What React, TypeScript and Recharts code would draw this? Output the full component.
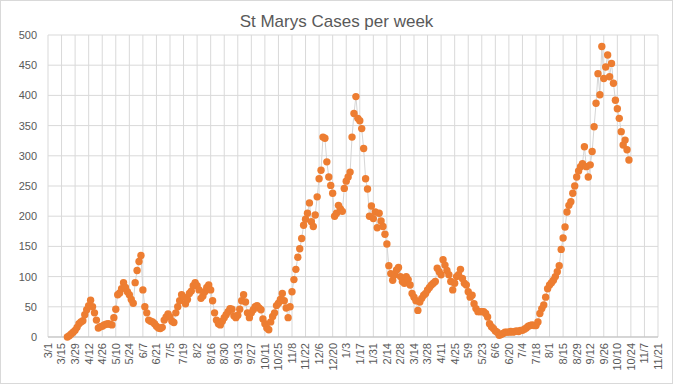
import React from 'react';
import { LineChart, Line, XAxis, YAxis, CartesianGrid } from 'recharts';

// x-axis labels, one every 14 days starting 3/1/2020
const tickLabels = [
  '3/1', '3/15', '3/29', '4/12', '4/26', '5/10', '5/24', '6/7', '6/21', '7/5',
  '7/19', '8/2', '8/16', '8/30', '9/13', '9/27', '10/11', '10/25', '11/8', '11/22',
  '12/6', '12/20', '1/3', '1/17', '1/31', '2/14', '2/28', '3/14', '3/28', '4/11',
  '4/25', '5/9', '5/23', '6/6', '6/20', '7/4', '7/18', '8/1', '8/15', '8/29',
  '9/12', '9/26', '10/10', '10/24', '11/7', '11/21',
];

const yTicks = [0, 50, 100, 150, 200, 250, 300, 350, 400, 450, 500];

// cases per week, every 2nd day from 3/15/2020 (one row = 14 days)
const firstDay = 14;
const stepDays = 2;
const cases: (number | null)[] = [
  null, null, null, 0, 2, 5, 8,
  11, 16, 22, 25, 27, 37, 45,
  52, 61, 50, 40, 28, 15, 17,
  18, 20, 21, 22, 21, 20, 32,
  46, 70, 73, 80, 90, 82, 75,
  70, 62, 56, 90, 110, 125, 135,
  78, 50, 40, 28, 26, 25, 22,
  18, 15, 14, 16, 28, 33, 38,
  33, 26, 24, 40, 50, 60, 70,
  66, 55, 62, 72, 76, 85, 90,
  85, 78, 64, 68, 75, 82, 86,
  78, 60, 40, 28, 22, 20, 26,
  32, 37, 42, 47, 46, 35, 32,
  36, 46, 60, 70, 58, 40, 32,
  40, 45, 50, 52, 48, 45, 30,
  22, 15, 12, 25, 34, 40, 52,
  56, 62, 72, 60, 48, 32, 50,
  75, 95, 112, 132, 146, 163, 185,
  195, 205, 222, 191, 183, 202, 232,
  262, 276, 331, 329, 290, 265, 251,
  238, 200, 205, 218, 212, 208, 246,
  258, 265, 273, 331, 370, 398, 362,
  358, 345, 312, 262, 245, 200, 217,
  196, 207, 181, 205, 192, 183, 170,
  154, 118, 105, 94, 103, 111, 115,
  100, 92, 89, 100, 95, 86, 72,
  66, 60, 44, 58, 64, 69, 72,
  78, 82, 86, 89, 92, 114, 108,
  103, 128, 119, 110, 103, 92, 78,
  89, 100, 103, 112, 97, 89, 86,
  75, 66, 69, 55, 47, 42, 42,
  42, 42, 39, 33, 22, 17, 14,
  10, 8, 3, 4, 6, 8, 8,
  8, 9, 8, 9, 10, 9, 11,
  11, 13, 15, 18, 19, 20, 19,
  19, 25, 39, 47, 53, 66, 80,
  86, 90, 94, 100, 108, 118, 145,
  164, 182, 207, 218, 224, 238, 250,
  265, 275, 282, 287, 315, 282, 265,
  285, 307, 348, 387, 436, 401, 481,
  428, 447, 467, 431, 453, 420, 392,
  378, 362, 340, 318, 326, 310, 293,
];

const data = cases
  .map((v, i) => ({ day: firstDay + i * stepDays, cases: v }))
  .filter((d) => d.cases !== null);

const xTicks = tickLabels.map((_, i) => i * 14);

const FONT = "'Liberation Sans', Arial, sans-serif";
const TEXT = '#595959';

const DateTick = (props: any) => {
  const { x, y, payload } = props;
  const label = tickLabels[Math.round(payload.value / 14)];
  return (
    <text
      transform={`translate(${x},${y + 6}) rotate(-90)`}
      textAnchor="end"
      dy="0.35em"
      fontSize={11}
      fontFamily={FONT}
      fill={TEXT}
    >
      {label}
    </text>
  );
};

export default function App() {
  return (
    <div style={{ position: 'relative', width: 673, height: 384, background: '#fff' }}>
      <style>{'body{margin:0}'}</style>
      <div
        style={{
          position: 'absolute',
          top: 12,
          left: 0,
          width: 673,
          textAlign: 'center',
          fontFamily: FONT,
          fontSize: 17,
          lineHeight: '20px',
          color: TEXT,
        }}
      >
        St Marys Cases per week
      </div>
      <LineChart
        width={673}
        height={384}
        data={data}
        margin={{ top: 35, right: 15, bottom: 0, left: 0 }}
      >
        <CartesianGrid stroke="#d9d9d9" strokeWidth={1} />
        <XAxis
          type="number"
          dataKey="day"
          domain={[0, 630]}
          ticks={xTicks}
          interval={0}
          height={47}
          tickSize={0}
          tickMargin={0}
          tickLine={false}
          axisLine={{ stroke: '#bfbfbf' }}
          tick={<DateTick />}
        />
        <YAxis
          domain={[0, 500]}
          ticks={yTicks}
          interval={0}
          width={48}
          tickSize={0}
          tickMargin={11}
          tickLine={false}
          axisLine={false}
          tick={{ fontSize: 11, fontFamily: FONT, fill: TEXT }}
        />
        <Line
          type="linear"
          dataKey="cases"
          stroke="#d6d6d6"
          strokeWidth={1}
          dot={{ r: 3.7, fill: '#ED7D31', stroke: 'none' }}
          activeDot={false}
          isAnimationActive={false}
        />
      </LineChart>
      <div
        style={{
          position: 'absolute',
          inset: 0,
          border: '1px solid #d9d9d9',
          pointerEvents: 'none',
        }}
      />
    </div>
  );
}
